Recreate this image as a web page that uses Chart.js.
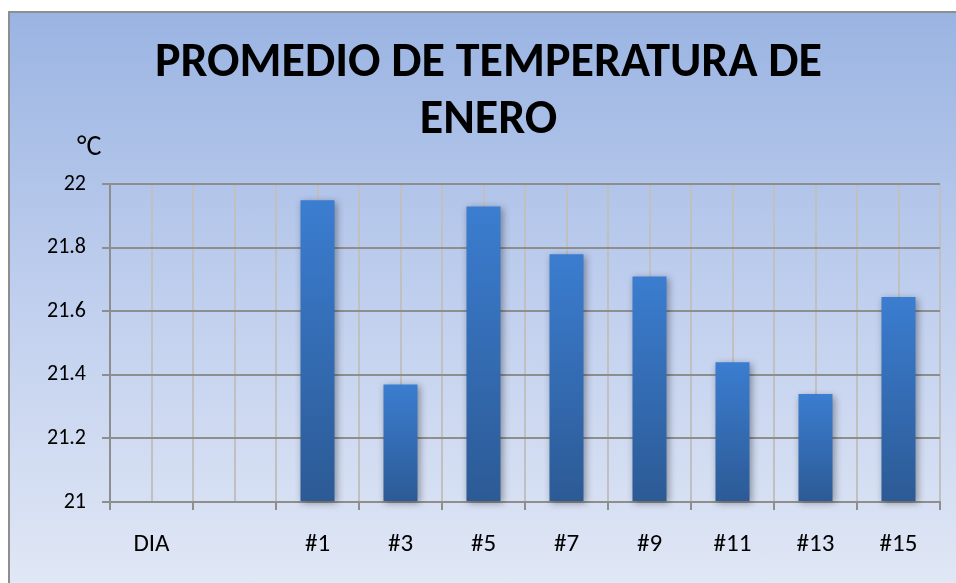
<!DOCTYPE html>
<html>
<head>
<meta charset="utf-8">
<script src="https://cdn.jsdelivr.net/npm/chart.js@4/dist/chart.umd.min.js"></script>
<style>
  html, body { margin: 0; padding: 0; background: #ffffff; width: 956px; height: 583px; overflow: hidden; }
  #frame {
    position: absolute; left: 8px; top: 11px; width: 948px; height: 572px;
    box-sizing: border-box;
    border-top: 2px solid #8e8e8e; border-left: 2px solid #8e8e8e;
    background: linear-gradient(#9ab4e2, #c0cfee 50%, #e0e7f5);
  }
  #frame canvas { display: block; }
</style>
</head>
<body>
<div id="frame"><canvas id="chart" width="946" height="570"></canvas></div>
<script>
// Daily mean temperatures for January (°C)
const categories = ['DIA', '', '#1', '#3', '#5', '#7', '#9', '#11', '#13', '#15'];
const temperatures = [null, null, 21.95, 21.37, 21.93, 21.78, 21.71, 21.44, 21.34, 21.645];
const titleLines = ['PROMEDIO DE TEMPERATURA DE', 'ENERO'];
const unitLabel = '°C';
const yMin = 21, yMax = 22, yStep = 0.2;
// half-category divisions used only for the lighter vertical grid
const halfSteps = new Array(categories.length * 2).fill('');

const FONT = 'Carlito, Lato, "Open Sans", sans-serif';

// soft drop shadow behind the columns
const barShadow = {
  id: 'barShadow',
  beforeDatasetsDraw(chart) {
    const c = chart.ctx;
    c.save();
    c.shadowColor = 'rgba(0,0,0,0.35)';
    c.shadowBlur = 7;
    c.shadowOffsetX = 2;
    c.shadowOffsetY = 2;
  },
  afterDatasetsDraw(chart) { chart.ctx.restore(); }
};

// unit caption above the value axis
const unitCaption = {
  id: 'unitCaption',
  afterDraw(chart) {
    const c = chart.ctx;
    const y = chart.scales.y;
    c.save();
    c.font = '28px ' + FONT;
    c.fillStyle = '#000000';
    c.textAlign = 'left';
    c.textBaseline = 'alphabetic';
    c.fillText(unitLabel, y.left + 40, chart.chartArea.top - 29);
    c.restore();
  }
};

function columnFill(ctx) {
  const chart = ctx.chart;
  const area = chart.chartArea;
  if (!area || ctx.raw == null) return '#3a7bcd';
  const ys = chart.scales.y;
  const top = ys.getPixelForValue(ctx.raw);
  const base = ys.getPixelForValue(yMin);
  const g = chart.ctx.createLinearGradient(0, top, 0, base);
  g.addColorStop(0, '#3b7dd0');
  g.addColorStop(1, '#2c5a95');
  return g;
}

new Chart(document.getElementById('chart'), {
  type: 'bar',
  data: {
    labels: categories,
    datasets: [{
      data: temperatures,
      base: yMin,
      backgroundColor: columnFill,
      borderWidth: 0,
      barPercentage: 0.41,
      categoryPercentage: 1,
      clip: false
    }]
  },
  options: {
    responsive: false,
    animation: false,
    layout: { padding: { left: 27, right: 16, top: 0, bottom: 0 } },
    plugins: {
      legend: { display: false },
      tooltip: { enabled: false },
      title: {
        display: true,
        text: titleLines,
        color: '#000000',
        font: { family: FONT, size: 48, weight: 'bold', lineHeight: 1.19 },
        padding: { top: 22, bottom: 35 }
      }
    },
    scales: {
      x: {
        type: 'category',
        offset: true,
        grid: { offset: true, color: '#c0c0c0', lineWidth: 2, tickColor: '#8e8e8e', tickLength: 8 },
        border: { color: '#8e8e8e', width: 2 },
        ticks: { color: '#000000', font: { family: FONT, size: 25 }, padding: 20, autoSkip: false, maxRotation: 0 },
        afterFit(scale) { scale.height = 81; }
      },
      x2: {
        type: 'category',
        labels: halfSteps,
        position: 'bottom',
        offset: true,
        grid: { offset: true, color: '#c0c0c0', lineWidth: 2, drawTicks: false },
        border: { display: false },
        ticks: { display: false },
        afterFit(scale) { scale.height = 0; }
      },
      y: {
        min: yMin,
        max: yMax,
        grid: { color: '#8e8e8e', lineWidth: 2, tickColor: '#8e8e8e', tickLength: 8 },
        border: { color: '#8e8e8e', width: 2 },
        ticks: {
          stepSize: yStep,
          color: '#000000',
          font: { family: FONT, size: 22 },
          padding: 16,
          callback: v => String(+v.toFixed(1))
        },
        afterFit(scale) { scale.width = 73; }
      }
    }
  },
  plugins: [barShadow, unitCaption]
});
</script>
</body>
</html>
